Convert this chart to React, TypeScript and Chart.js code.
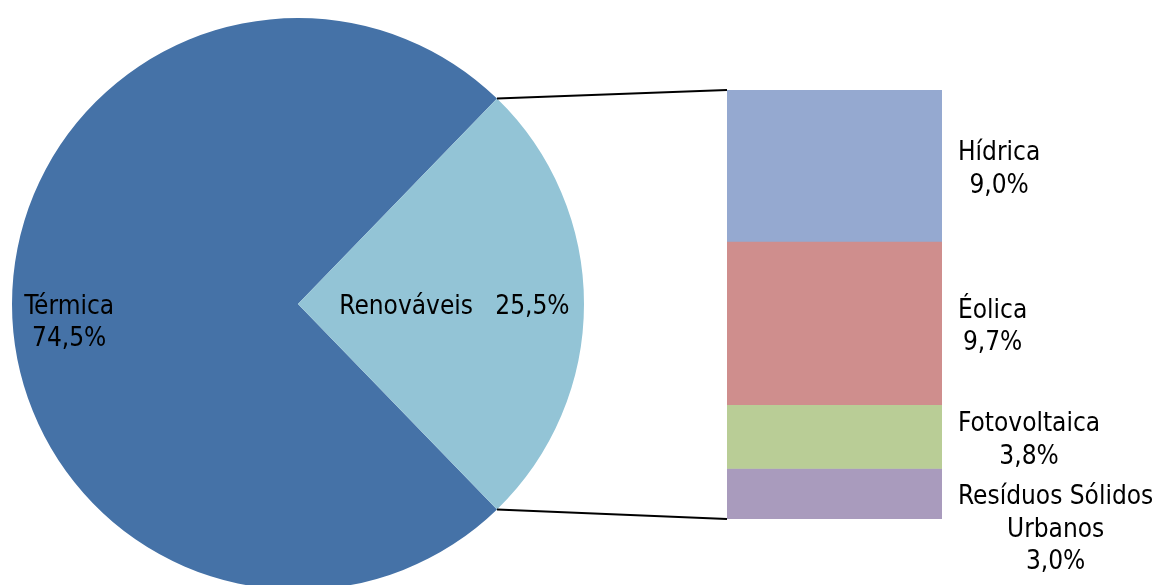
import React, { useEffect, useRef } from "react";
import { Chart, registerables } from "chart.js";

Chart.register(...registerables);

// ---- Data ----
const pieCategories = ["Térmica", "Renováveis"];
const pieValues = [74.5, 25.5];
const pieColors = ["#4572A7", "#93C4D6"];

const barCategories = ["Hídrica", "Éolica", "Fotovoltaica", "Resíduos Sólidos Urbanos"];
const barLabelLines = [["Hídrica"], ["Éolica"], ["Fotovoltaica"], ["Resíduos Sólidos", "Urbanos"]];
const barValues = [9.0, 9.7, 3.8, 3.0];
const barColors = ["#95A9D0", "#CF8E8D", "#B9CD96", "#A99BBD"];

const FONT = "26px 'DejaVu Sans Condensed', 'DejaVu Sans', sans-serif";
const LINE_H = 32.5;
const W = 1157;
const H = 585;

const fmt = (v: number) => v.toFixed(1).replace(".", ",") + "%";

export default function App() {
  const pieRef = useRef<HTMLCanvasElement | null>(null);
  const barRef = useRef<HTMLCanvasElement | null>(null);

  useEffect(() => {
    document.body.style.margin = "0";
    const total = pieValues.reduce((a, b) => a + b, 0);
    const before = pieValues[0];
    const rotation = 90 - (360 * (before + pieValues[1] / 2)) / total;

    const pieLabelPlugin = {
      id: "pieLabels",
      afterDatasetsDraw(chart: any) {
        const ctx = chart.ctx;
        const meta = chart.getDatasetMeta(0);
        ctx.save();
        ctx.font = FONT;
        ctx.fillStyle = "#000";
        ctx.textBaseline = "middle";
        ctx.textAlign = "center";
        meta.data.forEach((arc: any, i: number) => {
          const mid = (arc.startAngle + arc.endAngle) / 2;
          const frac = i === 0 ? 0.8 : 0.547;
          const mx = arc.x + Math.cos(mid) * arc.outerRadius * frac;
          const my = arc.y + Math.sin(mid) * arc.outerRadius * frac + 3;
          if (i === 0) {
            ctx.fillText(pieCategories[i], mx, my);
            ctx.fillText(fmt(pieValues[i]), mx, my + LINE_H);
          } else {
            ctx.fillText(pieCategories[i] + "   " + fmt(pieValues[i]), mx, my);
          }
        });
        ctx.restore();
      },
    };

    const pie = new Chart(pieRef.current!, {
      type: "pie",
      data: {
        labels: pieCategories,
        datasets: [
          {
            data: pieValues,
            backgroundColor: pieColors,
            borderWidth: 0,
          },
        ],
      },
      options: {
        responsive: false,
        animation: false,
        rotation,
        layout: { padding: { left: 12, right: 12, top: 18, bottom: 18 } },
        plugins: { legend: { display: false }, tooltip: { enabled: false } },
        events: [],
      },
      plugins: [pieLabelPlugin],
    });

    const barPlugin = {
      id: "barExtras",
      afterDatasetsDraw(chart: any) {
        const ctx = chart.ctx;
        ctx.save();
        // connector lines
        const arc: any = pie.getDatasetMeta(0).data[1];
        const first: any = chart.getDatasetMeta(0).data[0];
        const last: any = chart.getDatasetMeta(barValues.length - 1).data[0];
        const p1x = arc.x + Math.cos(arc.startAngle) * arc.outerRadius;
        const p1y = arc.y + Math.sin(arc.startAngle) * arc.outerRadius;
        const p2x = arc.x + Math.cos(arc.endAngle) * arc.outerRadius;
        const p2y = arc.y + Math.sin(arc.endAngle) * arc.outerRadius;
        const barLeft = first.x - first.width / 2;
        const topY = Math.min(first.y, first.base);
        const botY = Math.max(last.y, last.base);
        ctx.strokeStyle = "#000";
        ctx.lineWidth = 2;
        ctx.beginPath();
        ctx.moveTo(p1x, p1y);
        ctx.lineTo(barLeft, topY);
        ctx.moveTo(p2x, p2y);
        ctx.lineTo(barLeft, botY);
        ctx.stroke();

        // labels
        ctx.font = FONT;
        ctx.fillStyle = "#000";
        ctx.textBaseline = "middle";
        ctx.textAlign = "center";
        let prevBottom = -Infinity;
        barValues.forEach((v, i) => {
          const el: any = chart.getDatasetMeta(i).data[0];
          const lines = [...barLabelLines[i], fmt(v)];
          const blockW = Math.max(...lines.map((l) => ctx.measureText(l).width));
          const left = el.x + el.width / 2 + 16;
          const cx = left + blockW / 2;
          let center = (el.y + el.base) / 2 + 4;
          let top = center - (lines.length * LINE_H) / 2;
          if (top < prevBottom + 8) {
            top = prevBottom + 8;
            center = top + (lines.length * LINE_H) / 2;
          }
          prevBottom = center + (lines.length * LINE_H) / 2;
          lines.forEach((l, k) => {
            ctx.fillText(l, cx, top + LINE_H / 2 + k * LINE_H);
          });
        });
        ctx.restore();
      },
    };

    const bar = new Chart(barRef.current!, {
      type: "bar",
      data: {
        labels: ["Renováveis"],
        datasets: barValues.map((v, i) => ({
          label: barCategories[i],
          data: [v],
          backgroundColor: barColors[i],
          borderWidth: 0,
          barPercentage: 1,
          categoryPercentage: 1,
        })),
      },
      options: {
        responsive: false,
        animation: false,
        layout: { padding: { left: 727, right: W - 942, top: 90, bottom: H - 519 } },
        scales: {
          x: { stacked: true, display: false },
          y: {
            stacked: true,
            display: false,
            reverse: true,
            min: 0,
            max: barValues.reduce((a, b) => a + b, 0),
          },
        },
        plugins: { legend: { display: false }, tooltip: { enabled: false } },
        events: [],
      },
      plugins: [barPlugin],
    });

    return () => {
      bar.destroy();
      pie.destroy();
    };
  }, []);

  return (
    <div
      style={{
        position: "fixed",
        left: 0,
        top: 0,
        width: W,
        height: H,
        overflow: "hidden",
        background: "#fff",
      }}
    >
      <canvas
        ref={pieRef}
        width={596}
        height={608}
        style={{ position: "absolute", left: 0, top: 0, width: 596, height: 608 }}
      />
      <canvas
        ref={barRef}
        width={W}
        height={H}
        style={{ position: "absolute", left: 0, top: 0, width: W, height: H }}
      />
    </div>
  );
}
